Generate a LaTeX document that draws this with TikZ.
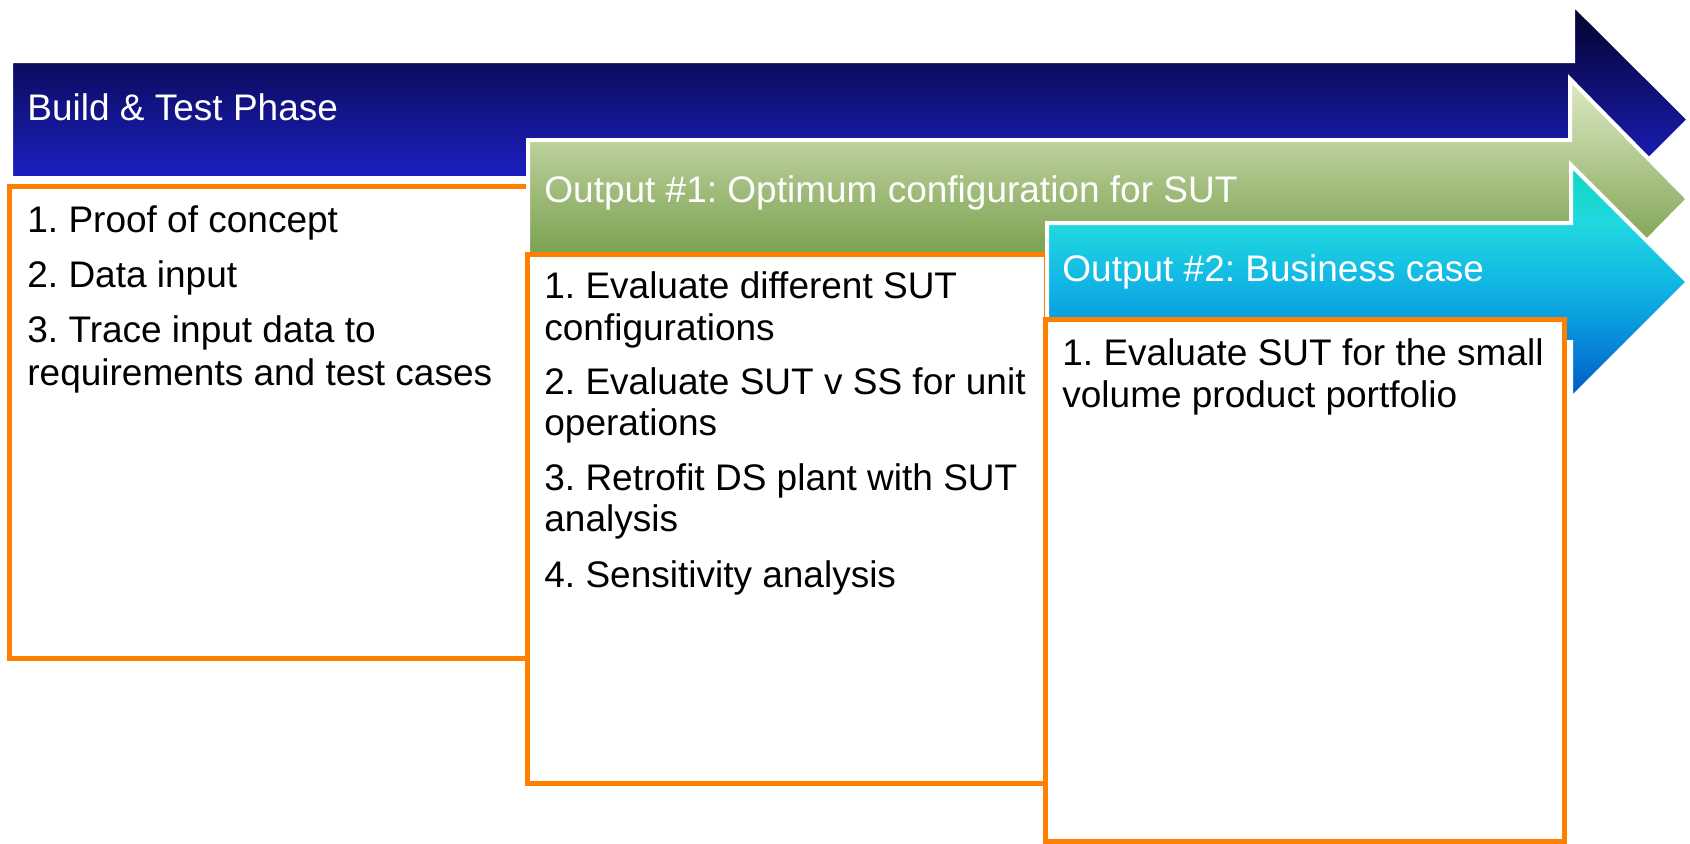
\documentclass[tikz,border=0pt]{standalone}
\usepackage{fontspec}
\setmainfont{Liberation Sans}
\frenchspacing
\definecolor{boxorange}{HTML}{FF8000}
\definecolor{bluetop}{HTML}{03032C}
\definecolor{bluebot}{HTML}{2428F2}
\definecolor{greentop}{HTML}{E0EAC5}
\definecolor{greenbot}{HTML}{558625}
\definecolor{cyanA}{HTML}{10D8BE}
\definecolor{cyanB}{HTML}{20D8E0}
\definecolor{cyanC}{HTML}{12B8E4}
\definecolor{cyanD}{HTML}{0AA0E0}
\definecolor{cyanE}{HTML}{0058C8}
\pgfdeclareverticalshading{cyansh}{100bp}{color(0bp)=(cyanE); color(25bp)=(cyanE); color(42.9bp)=(cyanD); color(50.4bp)=(cyanC); color(62.4bp)=(cyanB); color(75bp)=(cyanA); color(100bp)=(cyanA)}
\tikzset{
  box/.style={draw=boxorange, line width=2.5pt, fill=white},
  arrowshape/.style={draw=white, line width=2pt},
  hdr/.style={anchor=base west, inner sep=0pt, text=white, font=\fontsize{18.5}{22}\selectfont},
  txt/.style={anchor=base west, inner sep=0pt, text=black, font=\fontsize{18.5}{22}\selectfont},
}
\begin{document}
\begin{tikzpicture}[x=0.5pt,y=-0.5pt]
\useasboundingbox (0,0) rectangle (1690,843);
% Blue phase arrow
\path[arrowshape, top color=bluetop, bottom color=bluebot]
  (11,61) -- (1573,61) -- (1573,4) -- (1689,119.5) -- (1573,235) -- (1573,178) -- (11,178) -- cycle;
\node[hdr] (h0) at (27,120) {Build \& Test Phase};
% Box 1
\path[box] (9,186) rectangle (528,658);
\node[txt] (a1) at (27,232) {1. Proof of concept};
\node[txt] (a2) at (27,287) {2. Data input};
\node[txt] (a3) at (27,342) {3. Trace input data to};
\node[txt] (a3b) at (27,385) {requirements and test cases};
% Green arrow
\path[arrowshape, top color=greentop, bottom color=greenbot]
  (528,140) -- (1570,140) -- (1570,79) -- (1688,199) -- (1570,319) -- (1570,258) -- (528,258) -- cycle;
\node[hdr] (h1) at (544,202) {Output \#1: Optimum configuration for SUT};
% Box 2
\path[box] (527,254) rectangle (1046,783);
\node[txt] (b1) at (544,298) {1. Evaluate different SUT};
\node[txt] (b1b) at (544,340) {configurations};
\node[txt] (b2) at (544,394) {2. Evaluate SUT v SS for unit};
\node[txt] (b2b) at (544,435) {operations};
\node[txt] (b3) at (544,490) {3. Retrofit DS plant with SUT};
\node[txt] (b3b) at (544,531) {analysis};
\node[txt] (b4) at (544,587) {4. Sensitivity analysis};
% Cyan arrow
\path[arrowshape, shading=cyansh]
  (1047,223) -- (1571,223) -- (1571,165) -- (1688,282) -- (1571,399) -- (1571,342) -- (1047,342) -- cycle;
\node[hdr] (h2) at (1062,281) {Output \#2: Business case};
% Box 3
\path[box] (1045,319) rectangle (1564,841);
\node[txt] (c1) at (1062,365) {1. Evaluate SUT for the small};
\node[txt] (c1b) at (1062,407) {volume product portfolio};
\end{tikzpicture}
\end{document}
